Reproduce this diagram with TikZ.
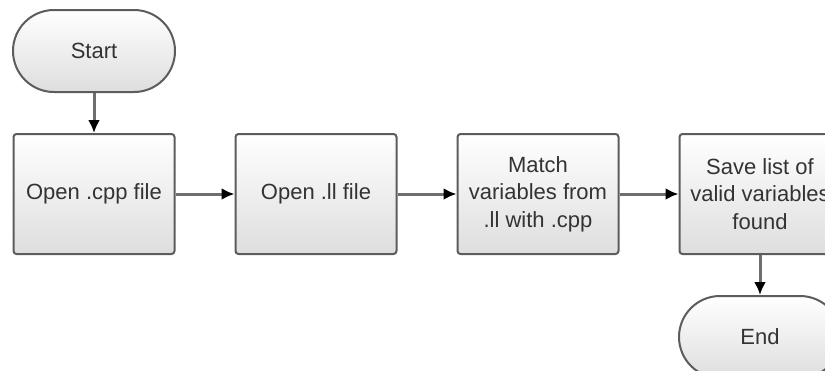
\documentclass[tikz,border=0pt]{standalone}
\usepackage{fontspec}
\setmainfont{Liberation Sans}
\usetikzlibrary{positioning,arrows.meta}
\definecolor{linegray}{HTML}{5C5C5C}
\definecolor{arrowgray}{HTML}{6E6E6E}
\definecolor{textgray}{HTML}{333333}
\begin{document}
\begin{tikzpicture}[x=1pt,y=-1pt,font=\fontsize{22}{27.5}\selectfont, node distance=40pt and 59pt]
    \tikzstyle{process node}=[rectangle,draw=linegray,line width=2pt,rounded corners=3pt,top color=white,bottom color=black!13,text=textgray,minimum width=161pt,minimum height=120pt,inner sep=0,align=center]
    \tikzstyle{terminal node}=[process node,rounded corners=41pt,minimum width=162pt,minimum height=82pt]
    \tikzstyle{flow}=[draw=arrowgray,line width=3pt,-{Latex[length=13pt,width=12pt,color=black]}]

    \clip (0,0) rectangle (825,370);

    \node(start)[terminal node] at (94,51) {Start};
    \node(cpp)[process node,below=of start]{Open .cpp file};
    \node(ll)[process node,right=of cpp]{Open .ll file};
    \node(match)[process node,right=of ll]{Match\\variables from\\.ll with .cpp};
    \node(save)[process node,right=of match]{Save list of\\valid variables\\found};
    \node(end)[terminal node,below=of save]{End};

    \draw[flow](start)--(cpp);
    \draw[flow](cpp)--(ll);
    \draw[flow](ll)--(match);
    \draw[flow](match)--(save);
    \draw[flow](save)--(end);
\end{tikzpicture}
\end{document}
